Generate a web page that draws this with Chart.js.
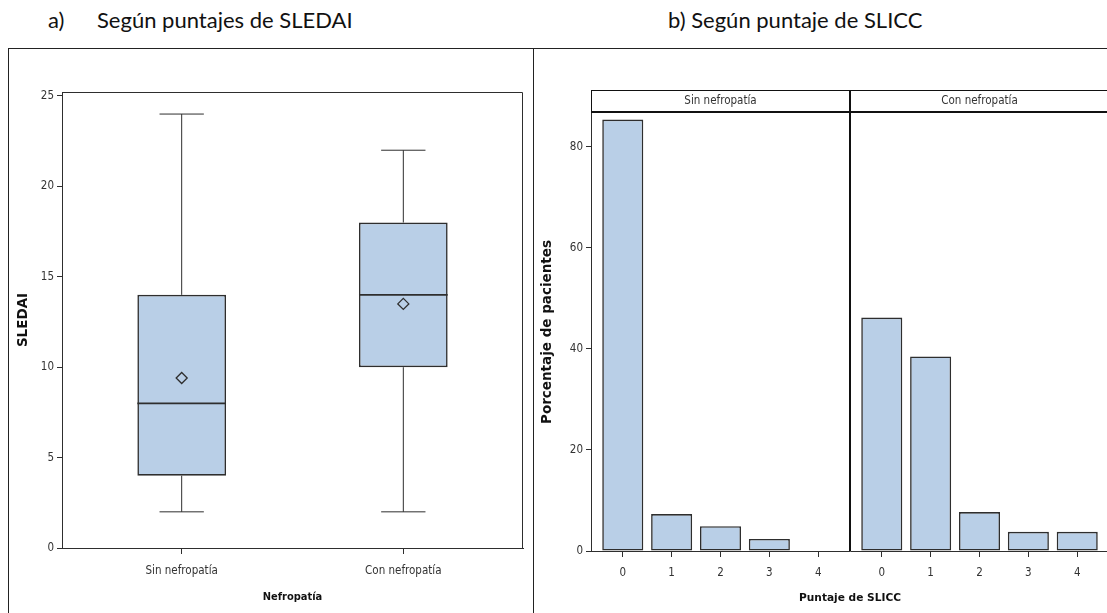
<!DOCTYPE html>
<html lang="es">
<head>
    <meta charset="UTF-8">
    <title>SLEDAI y SLICC según nefropatía</title>
    <script src="https://cdn.jsdelivr.net/npm/chart.js"></script>
    <style>
        html, body { margin: 0; padding: 0; background: #fff; }
        body { width: 1107px; height: 613px; position: relative; overflow: hidden; }
        .title { position: absolute; top: 6px; font-family: Lato, "Open Sans", sans-serif; font-size: 22px; color: #111; white-space: nowrap; }
        .frame { position: absolute; left: 8px; top: 48px; width: 1200px; height: 600px; border-top: 1px solid #222; border-left: 1px solid #222; }
        .divider { position: absolute; left: 533px; top: 48px; width: 1px; height: 600px; background: #222; }
        #boxWrap { position: absolute; left: 9px; top: 49px; width: 524px; height: 564px; }
        #barWrap { position: absolute; left: 535px; top: 49px; width: 600px; height: 564px; }
    </style>
</head>
<body>
    <div class="title" style="left:48px">a)</div>
    <div class="title" style="left:97px">Según puntajes de SLEDAI</div>
    <div class="title" style="left:668px">b) Según puntaje de SLICC</div>
    <div class="frame"></div>
    <div class="divider"></div>
    <div id="boxWrap"><canvas id="boxChart"></canvas></div>
    <div id="barWrap"><canvas id="barChart"></canvas></div>

    <script>
        // SLEDAI por grupo (resumen del boxplot)
        const groups = ['Sin nefropatía', 'Con nefropatía'];
        const sledaiMin = [2, 2];
        const sledaiQ1 = [4, 10];
        const sledaiMedian = [8, 14];
        const sledaiQ3 = [14, 18];
        const sledaiMax = [24, 22];
        const sledaiMean = [9.4, 13.5];
        const sledaiTicks = [0, 5, 10, 15, 20, 25];

        // SLICC: porcentaje de pacientes por puntaje
        const slicScores = ['0', '1', '2', '3', '4'];
        const slicSin = [85.4, 7.3, 4.9, 2.4, 0];
        const slicCon = [46.2, 38.5, 7.7, 3.8, 3.8];
        const slicTicks = [0, 20, 40, 60, 80];

        const fill = '#b9cfe7';
        const edge = '#2e2e2e';
        const narrow = "'DejaVu Sans Condensed', 'Liberation Sans Narrow', sans-serif";
        const tickFont = { family: narrow, size: 11.5 };
        const narrowBold = { family: narrow, size: 11, weight: 'bold' };
        const wideBold = { family: "'DejaVu Sans', sans-serif", size: 13.5, weight: 'bold' };
        const xBold = { family: "'DejaVu Sans', sans-serif", size: 10.6, weight: 'bold' };

        Chart.defaults.animation = false;
        Chart.defaults.events = [];
        Chart.defaults.color = '#333';

        const boxHalf = 0.2;
        const capHalf = 0.1;

        function segment(x0, y0, x1, y1, width) {
            return {
                type: 'line',
                data: [{ x: x0, y: y0 }, { x: x1, y: y1 }],
                borderColor: edge,
                borderWidth: width,
                pointRadius: 0,
                fill: false,
                order: 1
            };
        }

        const boxSets = [];
        groups.forEach((g, i) => {
            boxSets.push(segment(i, sledaiMin[i], i, sledaiQ1[i], 1));
            boxSets.push(segment(i, sledaiQ3[i], i, sledaiMax[i], 1));
            boxSets.push(segment(i - capHalf, sledaiMin[i], i + capHalf, sledaiMin[i], 1));
            boxSets.push(segment(i - capHalf, sledaiMax[i], i + capHalf, sledaiMax[i], 1));
        });
        boxSets.push({
            type: 'bar',
            data: groups.map((g, i) => ({ x: i, y: [sledaiQ1[i], sledaiQ3[i]] })),
            backgroundColor: fill,
            borderColor: edge,
            borderWidth: 1.6,
            borderSkipped: false,
            barPercentage: 2 * boxHalf,
            categoryPercentage: 1,
            order: 2
        });
        groups.forEach((g, i) => {
            const m = segment(i - boxHalf, sledaiMedian[i], i + boxHalf, sledaiMedian[i], 1.6);
            m.order = 0;
            boxSets.push(m);
        });
        boxSets.push({
            type: 'scatter',
            data: groups.map((g, i) => ({ x: i, y: sledaiMean[i] })),
            pointStyle: 'rectRot',
            pointRadius: 5.5,
            borderColor: edge,
            borderWidth: 1.3,
            backgroundColor: 'rgba(0,0,0,0)',
            order: 0
        });

        const frameBox = {
            id: 'frameBox',
            afterDraw(chart) {
                const a = chart.chartArea, ctx = chart.ctx;
                ctx.save();
                ctx.strokeStyle = edge;
                ctx.lineWidth = 1;
                ctx.beginPath();
                ctx.moveTo(a.left, a.top + 0.5);
                ctx.lineTo(a.right - 0.5, a.top + 0.5);
                ctx.lineTo(a.right - 0.5, a.bottom);
                ctx.stroke();
                ctx.restore();
            }
        };

        new Chart(document.getElementById('boxChart'), {
            type: 'bar',
            data: { datasets: boxSets },
            options: {
                responsive: true,
                maintainAspectRatio: false,
                layout: { padding: { top: 43, right: 10, left: 0, bottom: 0 } },
                plugins: { legend: { display: false }, tooltip: { enabled: false } },
                scales: {
                    x: {
                        type: 'linear',
                        offset: false,
                        min: -0.54,
                        max: 1.54,
                        afterBuildTicks: s => { s.ticks = groups.map((g, i) => ({ value: i })); },
                        afterFit: s => { s.height = 65; },
                        ticks: { callback: (v, i) => groups[i], font: tickFont, color: '#333', padding: 10 },
                        grid: { offset: false, drawOnChartArea: false, color: edge, tickLength: 6 },
                        border: { color: edge },
                        title: { display: true, text: 'Nefropatía', font: narrowBold, color: '#111', padding: { top: 4, bottom: 9 } }
                    },
                    y: {
                        min: 0,
                        max: 25.22,
                        afterBuildTicks: s => { s.ticks = sledaiTicks.map(v => ({ value: v })); },
                        afterFit: s => { s.width = 53; },
                        ticks: { font: tickFont, color: '#333', padding: 3 },
                        grid: { drawOnChartArea: false, color: edge, tickLength: 5 },
                        border: { color: edge },
                        title: { display: true, text: 'SLEDAI', font: wideBold, color: '#111', padding: { top: 6, bottom: 4 } }
                    }
                }
            },
            plugins: [frameBox]
        });

        // Panel de barras: el segundo grupo se desplaza en el eje x
        const panelShift = slicScores.length + 0.3;
        const panelNames = ['Sin nefropatía', 'Con nefropatía'];
        const barPoints = slicSin.map((v, i) => ({ x: i, y: v }))
            .concat(slicCon.map((v, i) => ({ x: i + panelShift, y: v })));
        const xTickValues = slicScores.map((s, i) => i).concat(slicScores.map((s, i) => i + panelShift));

        const panelStrip = {
            id: 'panelStrip',
            afterDraw(chart) {
                const a = chart.chartArea, ctx = chart.ctx;
                const x = chart.scales.x;
                const sep = Math.round(x.getPixelForValue((slicScores.length - 1 + panelShift) / 2));
                const top = a.top - 23;
                ctx.save();
                ctx.strokeStyle = '#111';
                ctx.lineWidth = 1;
                ctx.beginPath();
                ctx.moveTo(a.left, top + 0.5);
                ctx.lineTo(a.right, top + 0.5);
                ctx.moveTo(a.left + 0.5, top);
                ctx.lineTo(a.left + 0.5, a.top);
                ctx.stroke();
                ctx.lineWidth = 2;
                ctx.beginPath();
                ctx.moveTo(a.left, a.top - 1);
                ctx.lineTo(a.right, a.top - 1);
                ctx.moveTo(sep, top);
                ctx.lineTo(sep, a.bottom);
                ctx.stroke();
                ctx.fillStyle = '#333';
                ctx.font = `${tickFont.size}px ${tickFont.family}`;
                ctx.textAlign = 'center';
                ctx.textBaseline = 'middle';
                ctx.fillText(panelNames[0], (a.left + sep) / 2, top + 11.5);
                ctx.fillText(panelNames[1], sep + (sep - a.left) / 2, top + 11.5);
                ctx.restore();
            }
        };

        new Chart(document.getElementById('barChart'), {
            type: 'bar',
            data: {
                datasets: [{
                    data: barPoints,
                    backgroundColor: fill,
                    borderColor: edge,
                    borderWidth: 1.6,
                    borderSkipped: false,
                    barPercentage: 0.84,
                    categoryPercentage: 1
                }]
            },
            options: {
                responsive: true,
                maintainAspectRatio: false,
                layout: { padding: { top: 64, right: 26, left: 0, bottom: 0 } },
                plugins: { legend: { display: false }, tooltip: { enabled: false } },
                scales: {
                    x: {
                        type: 'linear',
                        offset: false,
                        min: -0.65,
                        max: slicScores.length - 1 + panelShift + 0.65,
                        afterBuildTicks: s => { s.ticks = xTickValues.map(v => ({ value: v })); },
                        afterFit: s => { s.height = 62; },
                        ticks: {
                            callback: (v, i) => slicScores[i % slicScores.length],
                            font: tickFont, color: '#333', padding: 9
                        },
                        grid: { offset: false, drawOnChartArea: false, color: edge, tickLength: 6 },
                        border: { color: edge },
                        title: { display: true, text: 'Puntaje de SLICC', font: xBold, color: '#111', padding: { top: 4, bottom: 8 } }
                    },
                    y: {
                        min: 0,
                        max: 86.7,
                        afterBuildTicks: s => { s.ticks = slicTicks.map(v => ({ value: v })); },
                        afterFit: s => { s.width = 56; },
                        ticks: { font: tickFont, color: '#333', padding: 3 },
                        grid: { drawOnChartArea: false, color: edge, tickLength: 5 },
                        border: { color: edge },
                        title: { display: true, text: 'Porcentaje de pacientes', font: wideBold, color: '#111', padding: { top: 4, bottom: 4 } }
                    }
                }
            },
            plugins: [panelStrip]
        });
    </script>
</body>
</html>
